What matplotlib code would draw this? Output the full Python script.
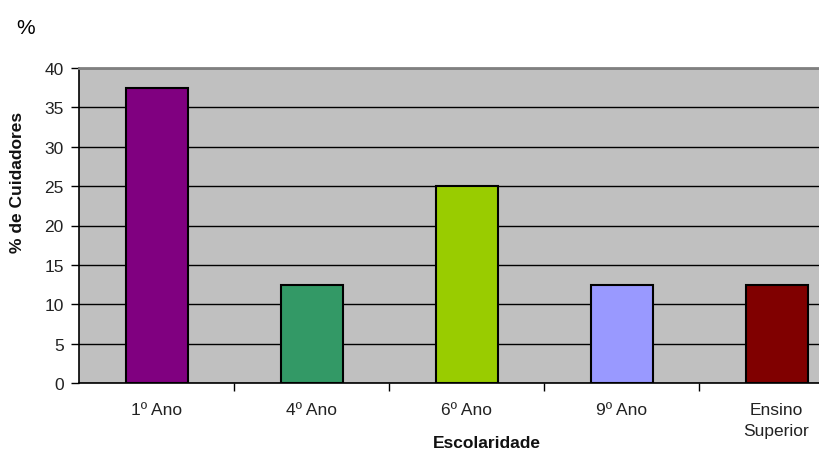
import matplotlib.pyplot as plt
import numpy as np

plt.rcParams['font.family'] = ['Liberation Sans', 'DejaVu Sans']

categorias = ['1º Ano', '4º Ano', '6º Ano', '9º Ano', 'Ensino\nSuperior']
percentagens = [37.5, 12.5, 25.0, 12.5, 12.5]
cores = ['#800080', '#339966', '#99CC00', '#9999FF', '#800000']
yticks = [0, 5, 10, 15, 20, 25, 30, 35, 40]

W, H = 819, 452
fig = plt.figure(figsize=(W / 100, H / 100), dpi=100)
# plot area runs past the right edge of the figure
ax = fig.add_axes([79 / W, (H - 384) / H, 775 / W, 315 / H])
ax.set_facecolor('#C0C0C0')

x = np.arange(len(categorias))
ax.bar(x, percentagens, width=0.4, color=cores, edgecolor='black', linewidth=1.5, zorder=3)

ax.set_xlim(-0.5, len(categorias) - 0.5)
ax.set_ylim(0, 40)
ax.set_yticks(yticks)
ax.yaxis.grid(True, color='black', linewidth=1, zorder=1)
ax.set_axisbelow(True)

# category labels at the centers, tick marks between categories
ax.set_xticks(x + 0.5)
ax.set_xticklabels([])
ax.set_xticks(x, minor=True)
ax.set_xticklabels(categorias, minor=True, fontsize=12.5, color='#222222', linespacing=1.45)
ax.tick_params(axis='x', which='minor', length=0, pad=14)
ax.tick_params(axis='x', which='major', length=6, width=1, direction='out')
ax.tick_params(axis='y', length=6, width=1, labelsize=12.5, labelcolor='#222222', pad=5)

ax.spines['right'].set_visible(False)
ax.spines['top'].set_color('#808080')
ax.spines['top'].set_linewidth(2)
ax.spines['left'].set_linewidth(1.2)
ax.spines['bottom'].set_linewidth(1.2)

fig.text(16 / W, (H - 28) / H, '%', fontsize=15, ha='left', va='center')
fig.text(487 / W, (H - 444) / H, 'Escolaridade', fontsize=12.5, fontweight='bold',
         ha='center', va='center', color='#111111')
fig.text(18 / W, (H - 182) / H, '% de Cuidadores', fontsize=12.5, fontweight='bold',
         rotation=90, ha='center', va='center', color='#111111')

fig.savefig('out.png', dpi=100)
